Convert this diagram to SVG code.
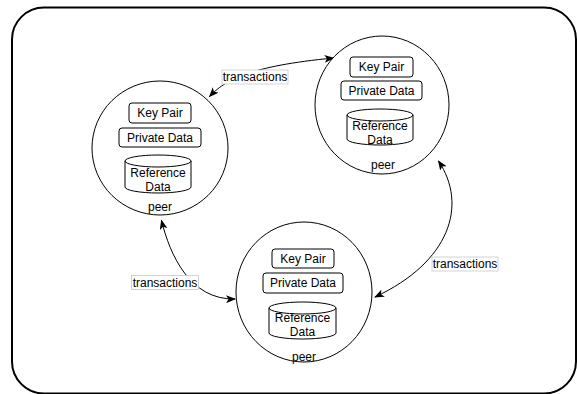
<svg xmlns="http://www.w3.org/2000/svg" width="577" height="394" viewBox="0 0 577 394">
<defs>
<style>
text{font-family:"Liberation Sans",Arial,Helvetica,sans-serif;font-size:12px;fill:#000;text-anchor:middle}
.peer{fill:#fff;stroke:#000;stroke-width:1}
.box{fill:#fff;stroke:#000;stroke-width:1}
.conn{fill:none;stroke:#000;stroke-width:1}
.lbl{fill:#fff;stroke:#c8c8c8;stroke-width:0.8}
</style>
<marker id="ah" viewBox="0 0 10 8" refX="9" refY="4" markerWidth="10" markerHeight="8" markerUnits="userSpaceOnUse" orient="auto-start-reverse">
<path d="M0,0 L10,4 L0,8 L2.5,4 Z" fill="#000"/>
</marker>
</defs>
<rect x="12" y="7.5" width="564" height="386" rx="32" ry="32" fill="#fff" stroke="#000" stroke-width="2"/>
<g id="connectors">
<path class="conn" d="M209.5,96.5 C225,80 250,66 333.5,58" marker-start="url(#ah)" marker-end="url(#ah)"/>
<path class="conn" d="M161.5,220.5 C170,255 190,300 235,299" marker-start="url(#ah)" marker-end="url(#ah)"/>
<path class="conn" d="M438.5,161 C468,205 450,262 375,297" marker-start="url(#ah)" marker-end="url(#ah)"/>
<rect class="lbl" x="222" y="70" width="66" height="14"/>
<text x="255" y="81">transactions</text>
<rect class="lbl" x="131.5" y="275.5" width="67" height="14"/>
<text x="165" y="286.5">transactions</text>
<rect class="lbl" x="432" y="257" width="66" height="14"/>
<text x="465" y="268">transactions</text>
</g>
<g id="peer-left">
<ellipse class="peer" cx="160" cy="148" rx="68" ry="67"/>
<rect class="box" x="129" y="103" width="62" height="20" rx="3"/>
<text x="160" y="117">Key Pair</text>
<rect class="box" x="119" y="128" width="82" height="19" rx="3"/>
<text x="160" y="142">Private Data</text>
<path class="box" d="M125,161 A33,6 0 0 1 191,161 L191,187 A33,6 0 0 1 125,187 Z M125,161 A33,6 0 0 0 191,161"/>
<text x="158" y="177">Reference</text>
<text x="158" y="191">Data</text>
<text x="160" y="211">peer</text>
</g>
<g id="peer-top-right">
<ellipse class="peer" cx="382" cy="105" rx="67" ry="69"/>
<rect class="box" x="350" y="57" width="63" height="20" rx="3"/>
<text x="381.5" y="71">Key Pair</text>
<rect class="box" x="341" y="81" width="81" height="19" rx="3"/>
<text x="381.5" y="95">Private Data</text>
<path class="box" d="M347,115 A33,6 0 0 1 413,115 L413,139 A33,6 0 0 1 347,139 Z M347,115 A33,6 0 0 0 413,115"/>
<text x="380" y="130">Reference</text>
<text x="380" y="144">Data</text>
<text x="383" y="169">peer</text>
</g>
<g id="peer-bottom">
<ellipse class="peer" cx="304" cy="292" rx="68" ry="70"/>
<rect class="box" x="272" y="249" width="62" height="19" rx="3"/>
<text x="303" y="263">Key Pair</text>
<rect class="box" x="263" y="273" width="80" height="20" rx="3"/>
<text x="303" y="287">Private Data</text>
<path class="box" d="M269,308 A33.5,6 0 0 1 336,308 L336,333 A33.5,6 0 0 1 269,333 Z M269,308 A33.5,6 0 0 0 336,308"/>
<text x="302.5" y="322">Reference</text>
<text x="302.5" y="336">Data</text>
<text x="304" y="361">peer</text>
</g>
</svg>
